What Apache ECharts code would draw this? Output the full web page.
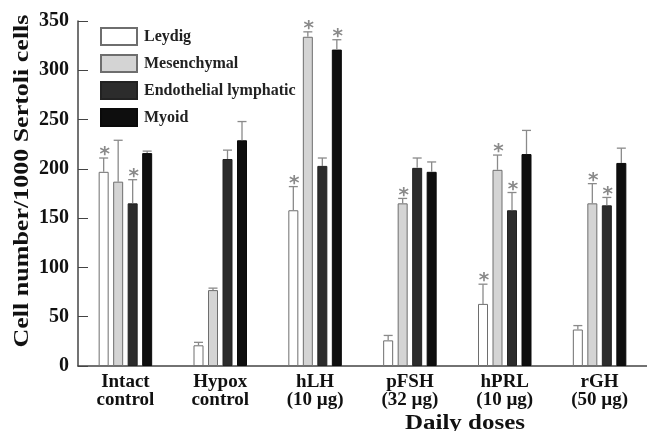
<!DOCTYPE html>
<html>
<head>
<meta charset="utf-8">
<script src="https://cdn.jsdelivr.net/npm/echarts@6/dist/echarts.min.js"></script>
<style>html,body{margin:0;padding:0;background:#fff}#c{width:647px;height:431px}</style>
</head>
<body>
<div id="c"></div>
<script>
const categories = ['Intact\ncontrol', 'Hypox\ncontrol', 'hLH\n(10 µg)', 'pFSH\n(32 µg)', 'hPRL\n(10 µg)', 'rGH\n(50 µg)'];
const seriesNames = ['Leydig', 'Mesenchymal', 'Endothelial lymphatic', 'Myoid'];
const leydig      = [197, 21, 158, 26, 63, 37];
const leydigErr   = [211, 24, 182, 31, 83, 41];
const leydigSig   = [1, 0, 1, 0, 1, 0];
const mesen       = [187, 77, 334, 165, 199, 165];
const mesenErr    = [229, 79, 339, 170, 214, 185];
const mesenSig    = [0, 0, 1, 1, 1, 1];
const endo        = [165, 210, 203, 201, 158, 163];
const endoErr     = [189, 219, 211, 211, 176, 171];
const endoSig     = [1, 0, 0, 0, 1, 1];
const myoid       = [216, 229, 321, 197, 215, 206];
const myoidErr    = [218, 248, 331, 207, 239, 221];
const myoidSig    = [0, 0, 1, 0, 0, 0];
const yTicks = [0, 50, 100, 150, 200, 250, 300, 350];

const FONT = '"Liberation Serif", "Times New Roman", serif';
const BAR_W = 10, GAP = 4.5;
const offsets = [0,1,2,3].map(k => (k - 1.5) * (BAR_W + GAP));
const fills = ['#ffffff', '#d4d4d4', '#2c2c2c', '#0e0e0e'];
const borders = ['#6e6e6e', '#6e6e6e', '#222', '#0a0a0a'];
const vals = [leydig, mesen, endo, myoid];
const errs = [leydigErr, mesenErr, endoErr, myoidErr];
const sigs = [leydigSig, mesenSig, endoSig, myoidSig];

const chart = echarts.init(document.getElementById('c'), null, {renderer: 'canvas'});

const series = [];
seriesNames.forEach((n, k) => {
  series.push({
    type: 'bar', name: n, data: vals[k], barWidth: BAR_W, barGap: (GAP / BAR_W * 100) + '%',
    itemStyle: {color: fills[k], borderColor: borders[k], borderWidth: 1},
    z: 2
  });
});
seriesNames.forEach((n, k) => {
  series.push({
    type: 'custom', name: n + ' err', z: 3, silent: true,
    data: categories.map((c, i) => [i, vals[k][i], errs[k][i], sigs[k][i]]),
    renderItem: (params, api) => {
      const i = api.value(0);
      const top = api.coord([i, api.value(1)]);
      const e = api.coord([i, api.value(2)]);
      const x = top[0] + offsets[k];
      const st = {stroke: '#8a8a8a', lineWidth: 1.3};
      const children = [
        {type: 'line', shape: {x1: x, y1: top[1], x2: x, y2: e[1]}, style: st},
        {type: 'line', shape: {x1: x - 4.5, y1: e[1], x2: x + 4.5, y2: e[1]}, style: st}
      ];
      if (api.value(3)) {
        children.push({type: 'text', x: x + 1, y: e[1] - 3,
          style: {text: '*', fill: '#8a8a8a', font: 'bold 20px "DejaVu Sans"', align: 'center', verticalAlign: 'middle'}});
      }
      return {type: 'group', children};
    }
  });
});

chart.setOption({
  animation: false,
  backgroundColor: '#fff',
  grid: {left: 78, top: 21, width: 575, bottom: 65, containLabel: false},
  legend: {
    data: seriesNames, orient: 'vertical', left: 100, top: 27, padding: 0,
    itemWidth: 36, itemHeight: 17, itemGap: 8, icon: 'rect',
    textStyle: {fontFamily: FONT, fontWeight: 'bold', fontSize: 16, color: '#222', padding: [0, 0, 0, 2]}
  },
  xAxis: {
    type: 'category', data: categories,
    axisLine: {lineStyle: {color: '#444', width: 1.5}},
    axisTick: {inside: true, length: 5, lineStyle: {color: '#444'}},
    axisLabel: {fontFamily: FONT, fontWeight: 'bold', fontSize: 19, color: '#111', margin: 7, lineHeight: 18}
  },
  yAxis: {
    type: 'value', min: 0, max: 350, interval: 50,
    splitLine: {show: false},
    axisLine: {show: true, lineStyle: {color: '#444', width: 1.5}},
    axisTick: {show: true, inside: true, length: 10, lineStyle: {color: '#444'}},
    axisLabel: {fontFamily: FONT, fontWeight: 'bold', fontSize: 20, color: '#111', margin: 9,
      formatter: v => yTicks.includes(v) ? String(v) : ''}
  },
  graphic: [
    {type: 'text', x: 23, y: 181, rotation: Math.PI / 2, scaleX: 1.3,
      style: {text: 'Cell number/1000 Sertoli cells', font: 'bold 20px "Liberation Serif"', fill: '#111', align: 'center', verticalAlign: 'middle'}},
    {type: 'text', x: 465, y: 424, scaleX: 1.25,
      style: {text: 'Daily doses', font: 'bold 20px "Liberation Serif"', fill: '#111', align: 'center', verticalAlign: 'middle'}}
  ],
  series
});
</script>
</body>
</html>
